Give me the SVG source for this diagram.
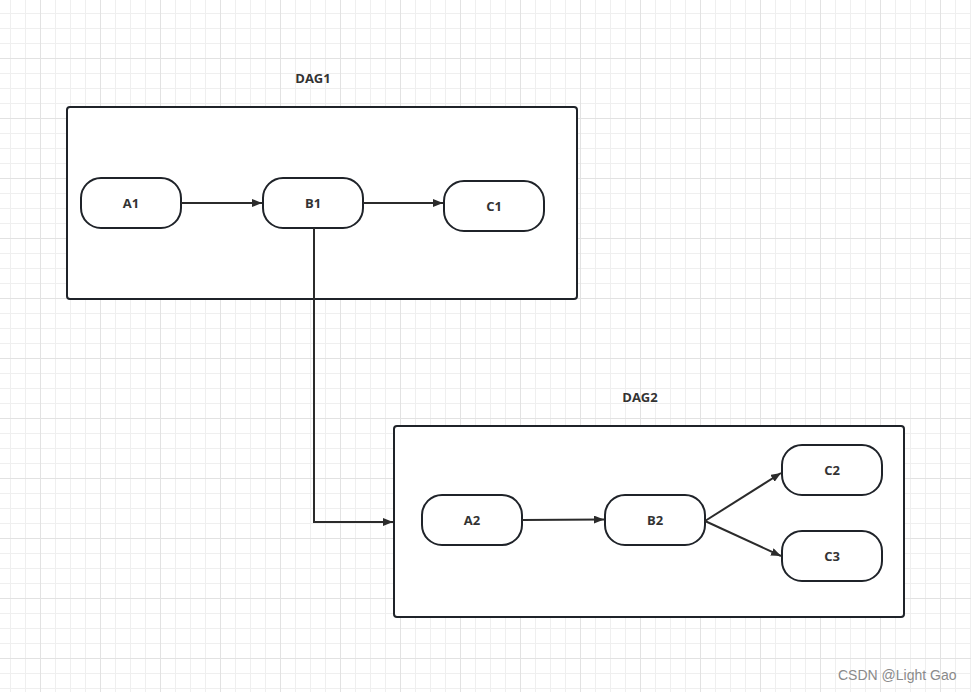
<svg xmlns="http://www.w3.org/2000/svg" width="971" height="692" viewBox="0 0 971 692">
<defs>
<pattern id="minor" x="10" y="13" width="15" height="15" patternUnits="userSpaceOnUse">
<path d="M0.5 0 V15 M0 0.5 H15" stroke="#efefef" stroke-width="1" fill="none"/>
</pattern>
<pattern id="major" x="40" y="58" width="60" height="60" patternUnits="userSpaceOnUse">
<path d="M0.5 0 V60 M0 0.5 H60" stroke="#e2e2e2" stroke-width="1" fill="none"/>
</pattern>
<marker id="arr" viewBox="0 0 10 8" refX="10" refY="4" markerWidth="10" markerHeight="8" markerUnits="userSpaceOnUse" orient="auto">
<path d="M0 0 L10 4 L0 8 Z" fill="#2b2b2b"/>
</marker>
</defs>
<style>
.box{fill:#ffffff;stroke:#1f2329;stroke-width:2}
.node{fill:#ffffff;stroke:#1f2329;stroke-width:2}
.lbl{font-family:"Open Sans","Noto Sans",sans-serif;font-weight:bold;font-size:13px;fill:#333333;text-anchor:middle;dominant-baseline:central}
.edge{fill:none;stroke:#2b2b2b;stroke-width:2;marker-end:url(#arr)}
.wm{font-family:"Liberation Sans",Arial,sans-serif;font-size:14px;fill:#8a8a8a}
</style>
<rect width="971" height="692" fill="#ffffff"/>
<rect width="971" height="692" fill="url(#minor)"/>
<rect width="971" height="692" fill="url(#major)"/>

<g id="DAG1">
<text class="lbl" x="313" y="78">DAG1</text>
<rect class="box" x="67" y="107" width="510" height="192" rx="3"/>
</g>
<g id="DAG2">
<text class="lbl" x="640" y="397">DAG2</text>
<rect class="box" x="394" y="426" width="510" height="191" rx="3"/>
</g>

<g id="A1"><rect class="node" x="81" y="178" width="100" height="50" rx="20"/><text class="lbl" x="131" y="203">A1</text></g>
<g id="B1"><rect class="node" x="263" y="178" width="100" height="50" rx="20"/><text class="lbl" x="313" y="203">B1</text></g>
<g id="C1"><rect class="node" x="444" y="181" width="100" height="50" rx="20"/><text class="lbl" x="494" y="206">C1</text></g>
<g id="A2"><rect class="node" x="422" y="495" width="100" height="50" rx="20"/><text class="lbl" x="472" y="520">A2</text></g>
<g id="B2"><rect class="node" x="605" y="495" width="100" height="50" rx="20"/><text class="lbl" x="655" y="520">B2</text></g>
<g id="C2"><rect class="node" x="782" y="445" width="100" height="50" rx="20"/><text class="lbl" x="832" y="470">C2</text></g>
<g id="C3"><rect class="node" x="782" y="531" width="100" height="50" rx="20"/><text class="lbl" x="832" y="556">C3</text></g>

<g id="connectors">
<path class="edge" d="M181 203 H262"/>
<path class="edge" d="M363 203 H443"/>
<path class="edge" d="M314 228 V522 H393"/>
<path class="edge" d="M522 520 L604 519.5"/>
<path class="edge" d="M705 521 L781 473"/>
<path class="edge" d="M705 521 L781 556"/>
</g>

<text class="wm" x="838" y="680">CSDN @Light Gao</text>
</svg>
